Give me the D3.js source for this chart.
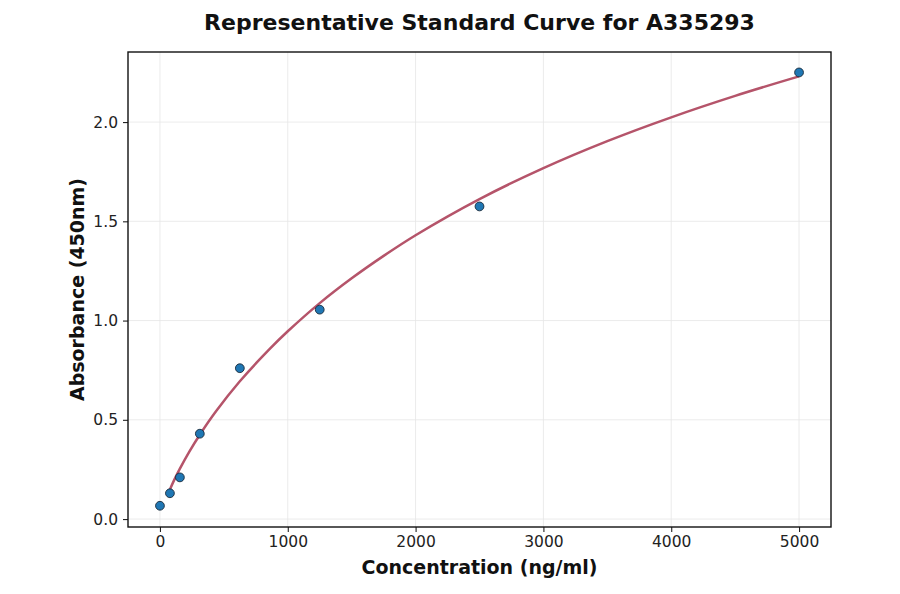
<!DOCTYPE html>
<html>
<head>
<meta charset="utf-8">
<script src="https://cdn.jsdelivr.net/npm/d3@7"></script>
<style>
  html, body { margin: 0; padding: 0; background: #fff; }
  #chart { width: 900px; height: 594px; }
  text { font-family: "DejaVu Sans", sans-serif; }
</style>
</head>
<body>
<div id="chart"></div>
<script>
// Standard points
const concentrations = [0, 78, 156, 312, 625, 1250, 2500, 5000];
const absorbances = [0.067, 0.13, 0.21, 0.43, 0.76, 1.055, 1.575, 2.25];

// Fitted curve
const curveX = [78, 110, 156, 230, 312, 440, 625, 857, 1000, 1250, 1500, 1750, 2000, 2500, 3000, 3500, 4000, 4500, 5000];
const curveY = [0.149, 0.195, 0.254, 0.340, 0.425, 0.544, 0.694, 0.856, 0.946, 1.088, 1.213, 1.326, 1.430, 1.612, 1.768, 1.904, 2.024, 2.132, 2.230];

const xTicks = [0, 1000, 2000, 3000, 4000, 5000];
const yTicks = [0.0, 0.5, 1.0, 1.5, 2.0];

const width = 900, height = 594;
const margin = { top: 52, right: 69, bottom: 67, left: 128 };
const innerWidth = width - margin.left - margin.right;
const innerHeight = height - margin.top - margin.bottom;

const svg = d3.select('#chart').append('svg')
  .attr('width', width)
  .attr('height', height);

const chart = svg.append('g')
  .attr('transform', `translate(${margin.left},${margin.top})`);

const x = d3.scaleLinear().domain([-250, 5250]).range([0, innerWidth]);
const y = d3.scaleLinear().domain([-0.04, 2.353]).range([innerHeight, 0]);

// grid
chart.append('g').selectAll('line')
  .data(xTicks)
  .join('line')
  .attr('x1', d => x(d)).attr('x2', d => x(d))
  .attr('y1', 0).attr('y2', innerHeight)
  .attr('stroke', '#e6e6e6').attr('stroke-width', 0.8);

chart.append('g').selectAll('line')
  .data(yTicks)
  .join('line')
  .attr('y1', d => y(d)).attr('y2', d => y(d))
  .attr('x1', 0).attr('x2', innerWidth)
  .attr('stroke', '#e6e6e6').attr('stroke-width', 0.8);

// axes
const xAxis = chart.append('g')
  .attr('transform', `translate(0,${innerHeight})`)
  .call(d3.axisBottom(x).tickValues(xTicks).tickFormat(d3.format('d')).tickSize(5).tickPadding(4));
const yAxis = chart.append('g')
  .call(d3.axisLeft(y).tickValues(yTicks).tickFormat(d3.format('.1f')).tickSize(5).tickPadding(5));

[xAxis, yAxis].forEach(a => {
  a.select('.domain').remove();
  a.selectAll('.tick line').attr('stroke', '#222').attr('stroke-width', 1.1);
  a.selectAll('.tick text')
    .style('font-family', '"DejaVu Sans", sans-serif')
    .style('font-size', '15.5px')
    .attr('fill', '#222');
});

// curve
const line = d3.line()
  .x(d => x(d[0]))
  .y(d => y(d[1]))
  .curve(d3.curveCatmullRom.alpha(0.5));

chart.append('path')
  .datum(d3.zip(curveX, curveY))
  .attr('d', line)
  .attr('fill', 'none')
  .attr('stroke', '#b5546a')
  .attr('stroke-width', 2.5);

// points
chart.append('g').selectAll('circle')
  .data(d3.zip(concentrations, absorbances))
  .join('circle')
  .attr('cx', d => x(d[0]))
  .attr('cy', d => y(d[1]))
  .attr('r', 4.4)
  .attr('fill', '#1f77b4')
  .attr('stroke', '#1a2a3a')
  .attr('stroke-width', 0.9);

// frame
chart.append('rect')
  .attr('width', innerWidth)
  .attr('height', innerHeight)
  .attr('fill', 'none')
  .attr('stroke', '#111')
  .attr('stroke-width', 1.4);

// title and labels
svg.append('text')
  .attr('x', margin.left + innerWidth / 2)
  .attr('y', 30)
  .attr('text-anchor', 'middle')
  .style('font-size', '22px')
  .style('font-weight', 'bold')
  .attr('fill', '#111')
  .text('Representative Standard Curve for A335293');

svg.append('text')
  .attr('x', margin.left + innerWidth / 2)
  .attr('y', 574)
  .attr('text-anchor', 'middle')
  .style('font-size', '19px')
  .style('font-weight', 'bold')
  .attr('fill', '#111')
  .text('Concentration (ng/ml)');

svg.append('text')
  .attr('transform', `translate(84,${margin.top + innerHeight / 2}) rotate(-90)`)
  .attr('text-anchor', 'middle')
  .style('font-size', '19px')
  .style('font-weight', 'bold')
  .attr('fill', '#111')
  .text('Absorbance (450nm)');
</script>
</body>
</html>
